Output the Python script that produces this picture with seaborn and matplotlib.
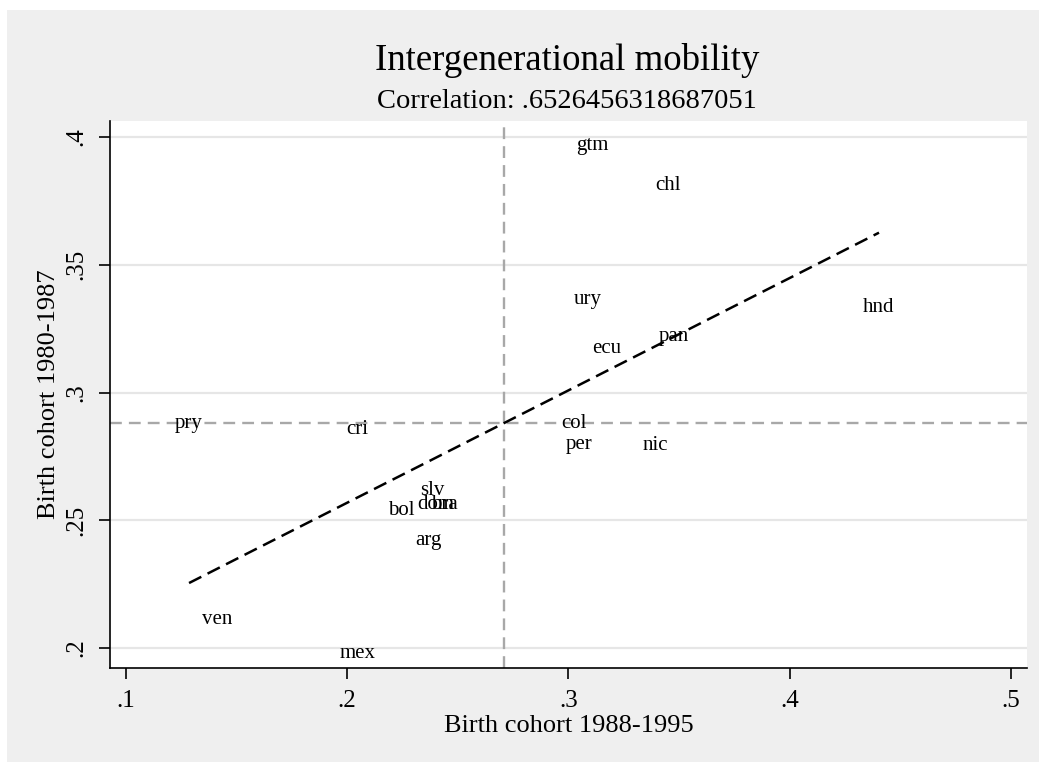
import numpy as np
import pandas as pd
import matplotlib
matplotlib.use("Agg")
import matplotlib.pyplot as plt
import seaborn as sns
from matplotlib.patches import Rectangle

# --- dane ---
countries = ["gtm", "chl", "ury", "hnd", "pan", "ecu", "col", "per", "nic",
             "pry", "cri", "slv", "dom", "bra", "bol", "arg", "ven", "mex"]
cohort_1988_1995 = [0.3107, 0.3450, 0.3089, 0.4404, 0.3477, 0.3174, 0.3025, 0.3048, 0.3392,
                    0.1285, 0.2044, 0.2383, 0.2401, 0.2438, 0.2243, 0.2365, 0.1411, 0.2049]
cohort_1980_1987 = [0.3965, 0.3812, 0.3366, 0.3331, 0.3221, 0.3174, 0.2877, 0.2798, 0.2791,
                    0.2877, 0.2857, 0.2618, 0.2560, 0.2560, 0.2540, 0.2419, 0.2113, 0.1980]
x_ticks = [0.1, 0.2, 0.3, 0.4, 0.5]
x_ticklabels = [".1", ".2", ".3", ".4", ".5"]
y_ticks = [0.2, 0.25, 0.3, 0.35, 0.4]
y_ticklabels = [".2", ".25", ".3", ".35", ".4"]

df = pd.DataFrame({"iso": countries, "x": cohort_1988_1995, "y": cohort_1980_1987})

sns.set_style("white")
plt.rcParams["font.family"] = ["Liberation Serif", "DejaVu Serif"]
plt.rcParams["text.color"] = "black"
plt.rcParams["axes.labelcolor"] = "black"
plt.rcParams["xtick.color"] = "black"
plt.rcParams["ytick.color"] = "black"

W, H = 1039, 762
fig = plt.figure(figsize=(W / 100, H / 100), dpi=100, facecolor="white")
# szare tlo grafu (jak w Stata)
fig.patches.append(Rectangle((7 / W, 0), 1, 1 - 10 / H, transform=fig.transFigure,
                             facecolor="#efefef", edgecolor="none", zorder=-10))

ax = fig.add_axes([110 / W, (H - 668) / H, (1027 - 110) / W, (668 - 121) / H])
ax.set_facecolor("white")

# siatka pozioma
for yt in y_ticks:
    ax.axhline(yt, color="#e6e6e6", lw=1.6, zorder=0)

# linie srednich
ax.axvline(df["x"].mean(), color="#a8a8a8", lw=1.7, ls=(0, (5, 3)), zorder=1)
ax.axhline(df["y"].mean(), color="#a8a8a8", lw=1.7, ls=(0, (5, 3)), zorder=1)

# linia dopasowania
sns.regplot(data=df, x="x", y="y", scatter=False, ci=None, ax=ax, truncate=True,
            line_kws={"color": "black", "lw": 1.8, "ls": (0, (5.5, 2.8)), "zorder": 2})

# etykiety krajow zamiast punktow
for _, r in df.iterrows():
    ax.text(r["x"], r["y"], r["iso"], ha="center", va="center", fontsize=15,
            color="black", zorder=3)

ax.set_xlim(0.09277, 0.5073)
ax.set_ylim(0.1922, 0.40626)
ax.set_xticks(x_ticks)
ax.set_xticklabels(x_ticklabels)
ax.set_yticks(y_ticks)
ax.set_yticklabels(y_ticklabels, rotation=90, va="center")
ax.tick_params(axis="both", direction="out", length=8, width=1.2, color="black",
               labelsize=18, pad=8, bottom=True, left=True)

for side in ["top", "right"]:
    ax.spines[side].set_visible(False)
for side in ["left", "bottom"]:
    ax.spines[side].set_visible(True)
    ax.spines[side].set_color("black")
    ax.spines[side].set_linewidth(1.2)

ax.set_xlabel("Birth cohort 1988-1995", fontsize=19, labelpad=2)
ax.set_ylabel("Birth cohort 1980-1987", fontsize=19)
ax.yaxis.set_label_coords(-0.055, 0.5)

fig.text(567 / W, 1 - 60 / H, "Intergenerational mobility", ha="center", va="center", fontsize=26.5)
fig.text(567 / W, 1 - 101 / H, "Correlation: .6526456318687051", ha="center", va="center", fontsize=20.5)

fig.savefig("out.png", dpi=100, facecolor=fig.get_facecolor())
